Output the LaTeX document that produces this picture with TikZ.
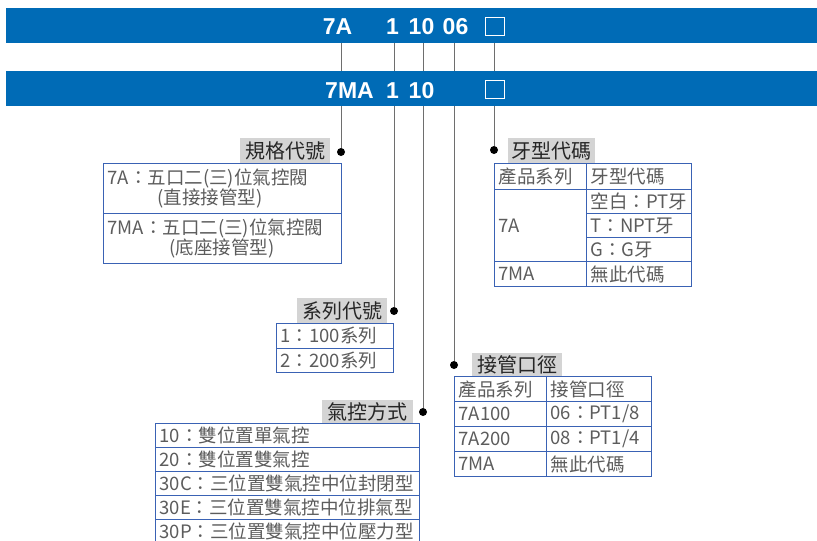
\documentclass[tikz,border=0pt]{standalone}
\usepackage{fontspec}
\setmainfont{Liberation Sans}
\newfontfamily\cjk{Noto Sans CJK TC}
\definecolor{bannerblue}{HTML}{006BB6}
\definecolor{tblue}{HTML}{3A62B4}
\definecolor{tgray}{HTML}{5C5C5C}
\definecolor{taggray}{HTML}{D4D4D4}
\definecolor{leadgray}{HTML}{6E6E6E}
\begin{document}
\begin{tikzpicture}[x=1pt,y=-1pt,
    banner/.style={fill=bannerblue, minimum width=814pt, minimum height=35pt, inner sep=0pt, anchor=north west},
    code/.style={text=white, font=\fontsize{23}{23}\selectfont\bfseries, inner sep=0pt, anchor=base},
    slot/.style={draw=white, line width=0.8pt, minimum width=19pt, minimum height=18pt, inner sep=0pt},
    lead/.style={draw=leadgray, line width=0.9pt},
    dot/.style={circle, fill=black, inner sep=0pt, minimum size=8pt},
    tag/.style={fill=taggray, text=black!85, font=\cjk\fontsize{20}{20}\selectfont, minimum width=90pt, minimum height=25pt, inner sep=0pt, anchor=north west},
    cell/.style={draw=tblue, line width=1.1pt, text=tgray, font=\cjk\fontsize{18.5}{19}\selectfont, inner xsep=4pt, inner ysep=0pt, anchor=north west, align=left}]
  \useasboundingbox (0,0) rectangle (817,541);
  % the two code banners
  \node[banner] (bannerA) at (6,8) {};
  \node[banner] (bannerB) at (6,71) {};
  \node[code] (codeA) at (337.5,34) {7A};
  \node[code] (serA) at (392.5,34) {1};
  \node[code] (ctlA) at (421.5,34) {10};
  \node[code] (portA) at (455.5,34) {06};
  \node[slot] (slotA) at (494.5,26) {};
  \node[code] (codeB) at (349.5,98) {7MA};
  \node[code] (serB) at (392.5,98) {1};
  \node[code] (ctlB) at (421.5,98) {10};
  \node[slot] (slotB) at (494.5,89) {};
  % dots at the ends of the leads
  \node[dot] (ggdot) at (341,152) {};
  \node[dot] (xldot) at (394,311) {};
  \node[dot] (qkdot) at (423,412) {};
  \node[dot] (jgdot) at (454,365) {};
  \node[dot] (yxdot) at (494,150) {};
  \foreach \d in {ggdot,xldot,qkdot,jgdot,yxdot} {
    \draw[lead] (\d |- bannerA.south) -- (\d |- bannerB.north);
    \draw[lead] (\d |- bannerB.south) -- (\d);
  }
  % 規格代號
  \node[tag] (ggtag) at (240,138) {規格代號};
  \node[cell, text width=230pt, minimum height=50pt] (gg1) at (103,163) {7A：五口二(三)位氣控閥\\\hspace*{50pt}(直接接管型)};
  \node[cell, text width=230pt, minimum height=50pt] (gg2) at (103,213) {7MA：五口二(三)位氣控閥\\\hspace*{62pt}(底座接管型)};
  % 系列代號
  \node[tag] (xltag) at (297,298) {系列代號};
  \node[cell, text width=109pt, minimum height=24.5pt] (xl1) at (276,323) {1：100系列};
  \node[cell, text width=109pt, minimum height=24.5pt] (xl2) at (276,347.5) {2：200系列};
  % 氣控方式
  \node[tag, minimum width=91pt, minimum height=23pt] (qktag) at (322,400) {氣控方式};
  \node[cell, text width=256pt, minimum height=24pt] (qk1) at (155,423) {10：雙位置單氣控};
  \node[cell, text width=256pt, minimum height=24pt] (qk2) at (155,447) {20：雙位置雙氣控};
  \node[cell, text width=256pt, minimum height=24pt] (qk3) at (155,471) {30C：三位置雙氣控中位封閉型};
  \node[cell, text width=256pt, minimum height=24pt] (qk4) at (155,495) {30E：三位置雙氣控中位排氣型};
  \node[cell, text width=256pt, minimum height=24pt] (qk5) at (155,519) {30P：三位置雙氣控中位壓力型};
  % 接管口徑
  \node[tag, minimum height=23pt] (jgtag) at (472,353) {接管口徑};
  \node[cell, text width=84pt, minimum height=25pt] (jg1) at (454,376) {產品系列};
  \node[cell, text width=97pt, minimum height=25pt] (jg1r) at (546,376) {接管口徑};
  \node[cell, text width=84pt, minimum height=25pt] (jg2) at (454,401) {7A100};
  \node[cell, text width=97pt, minimum height=25pt] (jg2r) at (546,401) {06：PT1/8};
  \node[cell, text width=84pt, minimum height=25pt] (jg3) at (454,426) {7A200};
  \node[cell, text width=97pt, minimum height=25pt] (jg3r) at (546,426) {08：PT1/4};
  \node[cell, text width=84pt, minimum height=25pt] (jg4) at (454,451) {7MA};
  \node[cell, text width=97pt, minimum height=25pt] (jg4r) at (546,451) {無此代碼};
  % 牙型代碼
  \node[tag, minimum width=87pt] (yxtag) at (508,138) {牙型代碼};
  \node[cell, text width=84pt, minimum height=26pt] (yx1) at (494,163) {產品系列};
  \node[cell, text width=97pt, minimum height=26pt] (yx1r) at (586,163) {牙型代碼};
  \node[cell, text width=84pt, minimum height=72pt] (yx2) at (494,189) {7A};
  \node[cell, text width=97pt, minimum height=24pt] (yx2r) at (586,189) {空白：PT牙};
  \node[cell, text width=97pt, minimum height=24pt] (yx3r) at (586,213) {T：NPT牙};
  \node[cell, text width=97pt, minimum height=24pt] (yx4r) at (586,237) {G：G牙};
  \node[cell, text width=84pt, minimum height=25pt] (yx5) at (494,261) {7MA};
  \node[cell, text width=97pt, minimum height=25pt] (yx5r) at (586,261) {無此代碼};
\end{tikzpicture}
\end{document}
